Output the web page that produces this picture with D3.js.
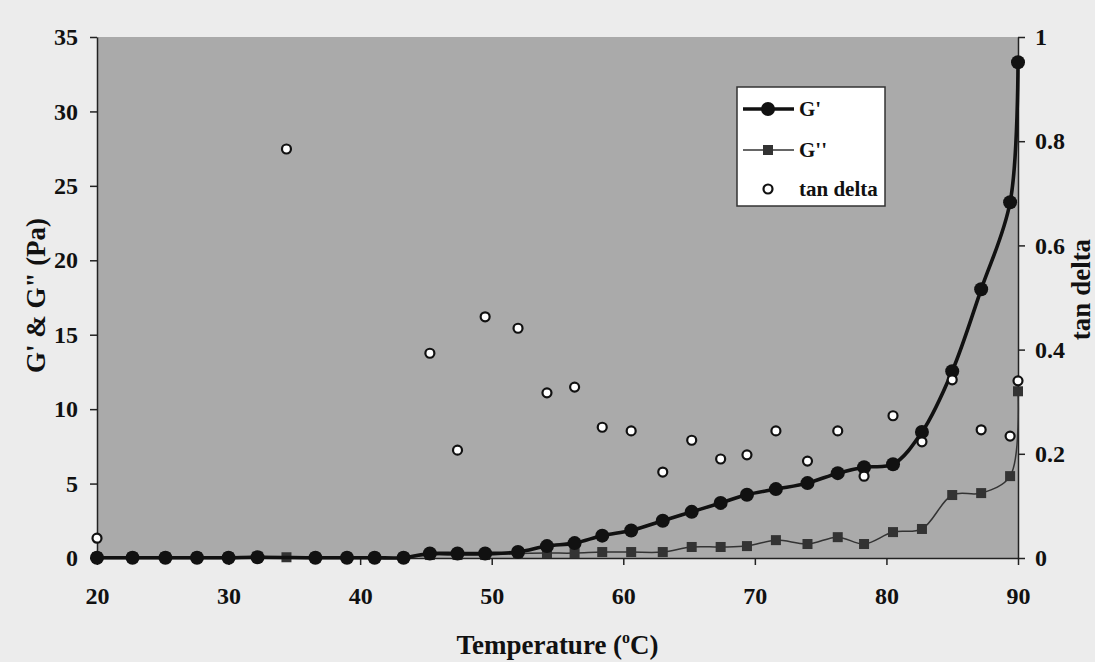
<!DOCTYPE html>
<html>
<head>
<meta charset="utf-8">
<script src="https://cdn.jsdelivr.net/npm/d3@7/dist/d3.min.js"></script>
<style>
  body { margin: 0; background: #ebebeb; }
  svg { font-family: "Liberation Serif", "Times New Roman", serif; font-weight: bold; }
</style>
</head>
<body>
<div id="chart"></div>
<script>
// Data
const temps    = [20, 22.7, 25.2, 27.6, 30.0, 32.2, 34.4, 36.6, 39.0, 41.1, 43.3, 45.3, 47.4, 49.5, 52.0, 54.2, 56.3, 58.4, 60.6, 63.0, 65.2, 67.4, 69.4, 71.6, 74.0, 76.3, 78.3, 80.5, 82.7, 85.0, 87.2, 89.4, 90.0];
const gPrime   = [0.02, 0.02, 0.02, 0.02, 0.02, 0.05, null, 0.02, 0.02, 0.02, 0.02, 0.3, 0.3, 0.3, 0.4, 0.8, 1.0, 1.5, 1.85, 2.5, 3.1, 3.7, 4.25, 4.63, 5.03, 5.7, 6.1, 6.3, 8.46, 12.55, 18.05, 23.9, 33.3];
const gDouble  = [0.05, 0.05, 0.05, 0.05, 0.05, 0.1, 0.05, 0.03, 0.03, 0.03, 0.03, 0.2, 0.2, 0.2, 0.3, 0.33, 0.33, 0.4, 0.4, 0.4, 0.74, 0.74, 0.8, 1.2, 0.94, 1.4, 0.94, 1.74, 1.95, 4.23, 4.36, 5.5, 11.2];
const tanDelta = [0.038, null, null, null, null, null, 0.785, null, null, null, null, 0.393, 0.207, 0.463, 0.441, 0.317, 0.328, 0.251, 0.244, 0.165, 0.226, 0.190, 0.198, 0.244, 0.186, 0.244, 0.157, 0.273, 0.223, 0.342, 0.246, 0.234, 0.340];

const xTicks = [20, 30, 40, 50, 60, 70, 80, 90];
const leftTicks = [0, 5, 10, 15, 20, 25, 30, 35];
const rightTicks = [0, 0.2, 0.4, 0.6, 0.8, 1];
const legendLabels = ["G'", "G''", "tan delta"];

const width = 1095, height = 662;
const margin = { top: 37, right: 77, bottom: 104, left: 97 };
const w = width - margin.left - margin.right;
const h = height - margin.top - margin.bottom;

const svg = d3.select("#chart")
    .append("svg")
    .attr("width", width)
    .attr("height", height);

svg.append("rect")
    .attr("width", width)
    .attr("height", height)
    .attr("fill", "#ececec");

const g = svg.append("g")
    .attr("transform", `translate(${margin.left},${margin.top})`);

const x = d3.scaleLinear().domain([20, 90]).range([0, w]);
const yL = d3.scaleLinear().domain([0, 35]).range([h, 0]);
const yR = d3.scaleLinear().domain([0, 1]).range([h, 0]);

// plot area
g.append("rect")
    .attr("width", w)
    .attr("height", h)
    .attr("fill", "#aaaaaa");

// axes
const styleAxis = sel => {
    sel.select(".domain").attr("stroke", "#222").attr("stroke-width", 1.5);
    sel.selectAll(".tick line").attr("stroke", "#222").attr("stroke-width", 1.5);
    sel.selectAll(".tick text").attr("fill", "#111").style("font-size", "24px").style("font-weight", "bold")
        .style("font-family", "'Liberation Serif', serif");
};

g.append("g")
    .attr("transform", `translate(0,${h})`)
    .call(d3.axisBottom(x).tickValues(xTicks).tickSize(7).tickSizeOuter(0).tickPadding(22))
    .call(styleAxis);

g.append("g")
    .call(d3.axisLeft(yL).tickValues(leftTicks).tickSize(7).tickSizeOuter(0).tickPadding(12))
    .call(styleAxis);

g.append("g")
    .attr("transform", `translate(${w},0)`)
    .call(d3.axisRight(yR).tickValues(rightTicks).tickFormat(d3.format("")).tickSize(7).tickSizeOuter(0).tickPadding(10))
    .call(styleAxis);

// axis titles
g.append("text")
    .attr("transform", `translate(${-52},${h / 2 - 2}) rotate(-90)`)
    .attr("text-anchor", "middle")
    .style("font-size", "27px")
    .attr("fill", "#111")
    .text("G' & G\" (Pa)");

g.append("text")
    .attr("transform", `translate(${w + 72},${h / 2 - 8}) rotate(-90)`)
    .attr("text-anchor", "middle")
    .style("font-size", "27px")
    .attr("fill", "#111")
    .text("tan delta");

const xt = g.append("text")
    .attr("x", w / 2)
    .attr("y", h + 96)
    .attr("text-anchor", "middle")
    .style("font-size", "27px")
    .attr("fill", "#111");
xt.append("tspan").text("Temperature (");
xt.append("tspan").attr("dy", -11).style("font-size", "16px").text("o");
xt.append("tspan").attr("dy", 11).text("C)");

// series
const gpData = temps.map((t, i) => ({ t, v: gPrime[i] })).filter(d => d.v !== null);
const gdData = temps.map((t, i) => ({ t, v: gDouble[i] }));
const tdData = temps.map((t, i) => ({ t, v: tanDelta[i] })).filter(d => d.v !== null);

const lineL = d3.line()
    .x(d => x(d.t))
    .y(d => yL(d.v))
    .curve(d3.curveCatmullRom.alpha(0.5));

g.append("path")
    .datum(gdData)
    .attr("d", lineL)
    .attr("fill", "none")
    .attr("stroke", "#333")
    .attr("stroke-width", 1.5);

g.selectAll(".sq")
    .data(gdData)
    .enter()
    .append("rect")
    .attr("class", "sq")
    .attr("x", d => x(d.t) - 5)
    .attr("y", d => yL(d.v) - 5)
    .attr("width", 10)
    .attr("height", 10)
    .attr("fill", "#333");

g.append("path")
    .datum(gpData)
    .attr("d", lineL)
    .attr("fill", "none")
    .attr("stroke", "#111")
    .attr("stroke-width", 3.6);

g.selectAll(".dot")
    .data(gpData)
    .enter()
    .append("circle")
    .attr("class", "dot")
    .attr("cx", d => x(d.t))
    .attr("cy", d => yL(d.v))
    .attr("r", 7)
    .attr("fill", "#111");

g.selectAll(".td")
    .data(tdData)
    .enter()
    .append("circle")
    .attr("class", "td")
    .attr("cx", d => x(d.t))
    .attr("cy", d => yR(d.v))
    .attr("r", 4.5)
    .attr("fill", "#fff")
    .attr("stroke", "#111")
    .attr("stroke-width", 2.2);

// legend
const lg = svg.append("g").attr("transform", "translate(737,87)");
lg.append("rect")
    .attr("width", 148)
    .attr("height", 119)
    .attr("fill", "#fff")
    .attr("stroke", "#333")
    .attr("stroke-width", 1.5);

const rows = [22, 63, 102];
const items = lg.selectAll(".item")
    .data(legendLabels)
    .enter()
    .append("g")
    .attr("transform", (d, i) => `translate(0,${rows[i]})`);

items.filter((d, i) => i < 2)
    .append("line")
    .attr("x1", 6).attr("x2", 57)
    .attr("stroke", (d, i) => i === 0 ? "#111" : "#333")
    .attr("stroke-width", (d, i) => i === 0 ? 3.6 : 1.5);

items.filter((d, i) => i === 0)
    .append("circle").attr("cx", 31).attr("r", 7).attr("fill", "#111");
items.filter((d, i) => i === 1)
    .append("rect").attr("x", 26).attr("y", -5).attr("width", 10).attr("height", 10).attr("fill", "#333");
items.filter((d, i) => i === 2)
    .append("circle").attr("cx", 31).attr("r", 4.5).attr("fill", "#fff").attr("stroke", "#111").attr("stroke-width", 2.2);

items.append("text")
    .attr("x", 62)
    .attr("y", 7)
    .style("font-size", "21px")
    .attr("fill", "#111")
    .text(d => d);
</script>
</body>
</html>
